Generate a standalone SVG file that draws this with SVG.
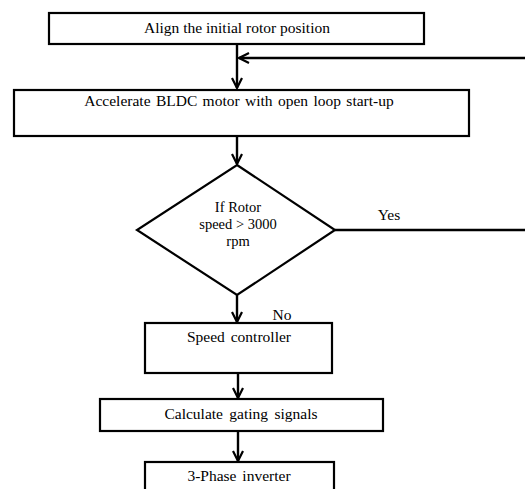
<svg xmlns="http://www.w3.org/2000/svg" width="525" height="489" viewBox="0 0 525 489">
<defs>
<marker id="ah" viewBox="0 0 12 12" refX="11" refY="6" markerWidth="12" markerHeight="12" markerUnits="userSpaceOnUse" orient="auto">
<path d="M1,1 L11,6 L1,11" fill="none" stroke="#000" stroke-width="2.2"/>
</marker>
<style>
.box{fill:#fff;stroke:#000;stroke-width:2.2}
.t{font-family:"Liberation Serif","Times New Roman",serif;font-size:15.5px;fill:#000;text-anchor:middle}
.d{font-size:14.5px}
.c{fill:none;stroke:#000;stroke-width:2.4}
</style>
</defs>
<rect width="525" height="489" fill="#fff"/>
<g id="connectors">
<line class="c" x1="237" y1="44" x2="237" y2="88" marker-end="url(#ah)"/>
<line class="c" x1="525" y1="58" x2="239" y2="58" marker-end="url(#ah)"/>
<line class="c" x1="237" y1="136" x2="237" y2="164" marker-end="url(#ah)"/>
<line class="c" x1="335" y1="230" x2="525" y2="230" stroke-width="2"/>
<line class="c" x1="237" y1="295" x2="237" y2="322" marker-end="url(#ah)"/>
<line class="c" x1="238" y1="373" x2="238" y2="398" marker-end="url(#ah)"/>
<line class="c" x1="238" y1="431" x2="238" y2="461" marker-end="url(#ah)"/>
<text class="t" x="389" y="220">Yes</text>
<text class="t" x="282" y="320">No</text>
</g>
<g id="n1">
<rect class="box" x="49" y="13" width="375" height="31"/>
<text class="t" x="237" y="33">Align the initial rotor position</text>
</g>
<g id="n2">
<rect class="box" x="14" y="90" width="455" height="46"/>
<text class="t" x="239" y="106" word-spacing="1.5">Accelerate BLDC motor with open loop start-up</text>
</g>
<g id="n3">
<polygon class="box" points="237,165 335,230 237,295 137,230" stroke-width="2"/>
<text class="t d" x="238" y="212">If Rotor</text>
<text class="t d" x="238" y="229">speed &gt; 3000</text>
<text class="t d" x="238" y="246">rpm</text>
</g>
<g id="n4">
<rect class="box" x="145" y="323" width="187" height="50"/>
<text class="t" x="239" y="342" word-spacing="2">Speed controller</text>
</g>
<g id="n5">
<rect class="box" x="100" y="399" width="283" height="32"/>
<text class="t" x="241" y="419" word-spacing="2.5">Calculate gating signals</text>
</g>
<g id="n6">
<rect class="box" x="145" y="462" width="189" height="40"/>
<text class="t" x="239" y="481" word-spacing="2">3-Phase inverter</text>
</g>
</svg>
